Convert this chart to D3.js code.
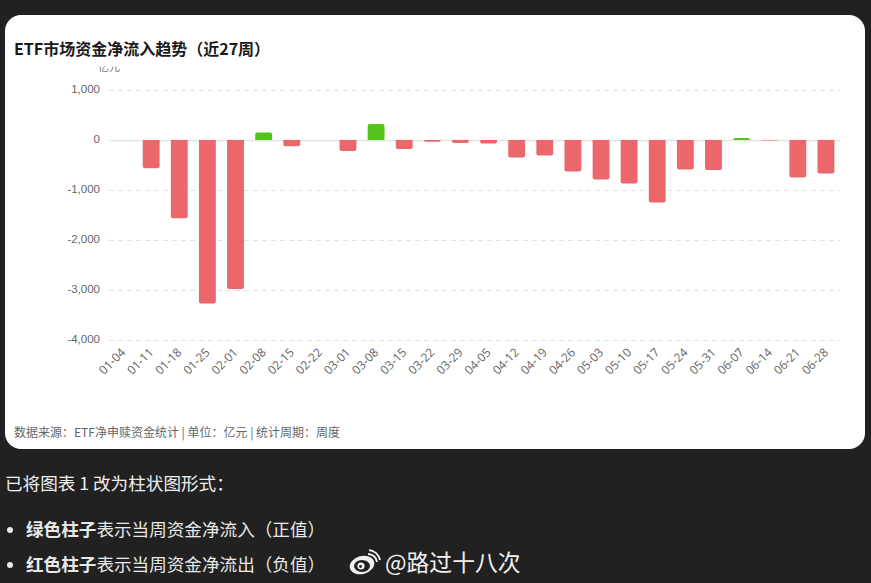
<!DOCTYPE html>
<html><head><meta charset="utf-8">
<script src="https://cdn.jsdelivr.net/npm/d3@7"></script>
<style>
html,body{margin:0;padding:0;background:#212121;overflow:hidden}
svg{display:block}
text{font-family:"Noto Sans CJK SC","Noto Sans",sans-serif}
</style></head><body>
<div id="chart"></div>
<script>
const weeks = ["01-04","01-11","01-18","01-25","02-01","02-08","02-15","02-22","03-01","03-08","03-15","03-22","03-29","04-05","04-12","04-19","04-26","05-03","05-10","05-17","05-24","05-31","06-07","06-14","06-21","06-28"];
const netFlow = [0,-565,-1565,-3270,-2980,150,-125,0,-220,320,-180,-35,-60,-70,-350,-310,-630,-790,-870,-1250,-590,-600,40,-15,-750,-670];
const yTicks = [1000,0,-1000,-2000,-3000,-4000];
const chartTitle = "ETF市场资金净流入趋势（近27周）";
const unitLabel = "亿元";
const sourceNote = "数据来源：ETF净申赎资金统计 | 单位：亿元 | 统计周期：周度";
const intro = "已将图表 1 改为柱状图形式：";
const bullets = [["绿色柱子","表示当周资金净流入（正值）"],["红色柱子","表示当周资金净流出（负值）"]];
const handle = "@路过十八次";

const svg = d3.select("#chart").append("svg").attr("width",871).attr("height",583);
svg.append("rect").attr("x",5).attr("y",15).attr("width",860).attr("height",434).attr("rx",16).attr("fill","#fff");

svg.append("text").attr("x",14).attr("y",55).attr("font-size",16).attr("font-weight",700).attr("fill","#1a1a1a").text(chartTitle);

const x = d3.scaleBand().domain(weeks).range([109,840]).paddingInner(0.4).paddingOuter(0.2);
const y = d3.scaleLinear().domain([-4000,1000]).range([340,90]);

// Unit label is cut off by the title block above the plot
svg.append("clipPath").attr("id","unitClip").append("rect").attr("x",90).attr("y",66.5).attr("width",40).attr("height",10);
svg.append("text").attr("x",109).attr("y",71).attr("text-anchor","middle").attr("font-size",11).attr("fill","#777")
  .attr("clip-path","url(#unitClip)").text(unitLabel);

// Value axis with dashed grid lines; labels use a plain hyphen for negatives
const yAxis = svg.append("g").attr("transform","translate(109,0)")
  .call(d3.axisLeft(y).tickValues(yTicks).tickSize(0).tickPadding(9).tickFormat(d=>d3.format(",")(d).replace("−","-")));
yAxis.select(".domain").remove();
yAxis.selectAll("text").attr("font-size",11.5).attr("fill","#666").attr("dy","0.22em").style("font-family","'Liberation Sans',sans-serif");
yAxis.selectAll(".tick").append("line").attr("x2",731)
  .attr("stroke",d=>d===0?"#e4e4e0":"#e2e2e0").attr("stroke-width",d=>d===0?1.5:1)
  .attr("stroke-dasharray",d=>d===0?null:"5,4");

// Bars: rounded on the end that points away from the baseline
const r = 2;
const barPath = d=>{
  const x0=x(d.week), w=x.bandwidth(), y0=y(0), y1=y(d.value), dir=d.value<0?1:-1;
  const h=Math.abs(y1-y0), rr=Math.min(r,h,w/2);
  return `M${x0},${y0}L${x0},${y1-dir*rr}Q${x0},${y1} ${x0+rr},${y1}L${x0+w-rr},${y1}Q${x0+w},${y1} ${x0+w},${y1-dir*rr}L${x0+w},${y0}Z`;
};
svg.append("g").selectAll("path").data(weeks.map((week,i)=>({week,value:netFlow[i]})).filter(d=>d.value!==0))
  .join("path").attr("d",barPath).attr("fill",d=>d.value>0?"#52c41a":"#ec676c")
  .attr("opacity",d=>Math.abs(d.value)<20?0.6:1);

// Category axis with slanted labels
const xAxis = svg.append("g").attr("transform","translate(0,340)").call(d3.axisBottom(x).tickSize(0));
xAxis.select(".domain").remove();
xAxis.selectAll("text").attr("font-size",12).attr("fill","#666")
  .style("font-family","'Open Sans',sans-serif")
  .attr("text-anchor","end").attr("dx",0).attr("dy",0)
  .attr("transform","translate(1,11) rotate(-45)");

svg.append("text").attr("x",14).attr("y",437).attr("font-size",12).attr("fill","#666").text(sourceNote);

svg.append("text").attr("x",5).attr("y",490).attr("font-size",17.6).attr("fill","#f0f0f0").text(intro);

bullets.forEach((b,i)=>{
  const by = 536+i*35;
  svg.append("circle").attr("cx",10).attr("cy",by-6).attr("r",3).attr("fill","#e8e8e8");
  const t = svg.append("text").attr("x",26).attr("y",by).attr("font-size",17.6).attr("fill","#e8e8e8");
  t.append("tspan").attr("font-weight",700).text(b[0]);
  t.append("tspan").text(b[1]);
});

// Weibo mark and account name
const logo = svg.append("g").attr("transform","translate(349,549)").attr("fill","none");
logo.append("ellipse").attr("cx",13).attr("cy",16).attr("rx",12.5).attr("ry",9).attr("fill","#efefef").attr("transform","rotate(-15 13 16)");
logo.append("ellipse").attr("cx",13).attr("cy",17).attr("rx",8).attr("ry",6).attr("fill","#212121");
logo.append("circle").attr("cx",12).attr("cy",17).attr("r",3.6).attr("fill","#efefef");
logo.append("circle").attr("cx",11.5).attr("cy",17.5).attr("r",1.4).attr("fill","#212121");
logo.append("path").attr("d","M19,5 A9,9 0 0 1 28,13").attr("stroke","#efefef").attr("stroke-width",2);
logo.append("path").attr("d","M20,1 A13,13 0 0 1 31,11").attr("stroke","#efefef").attr("stroke-width",2);

svg.append("text").attr("x",385).attr("y",571).attr("font-size",22.8).attr("fill","#f2f2f2").text(handle);
</script>
</body></html>
